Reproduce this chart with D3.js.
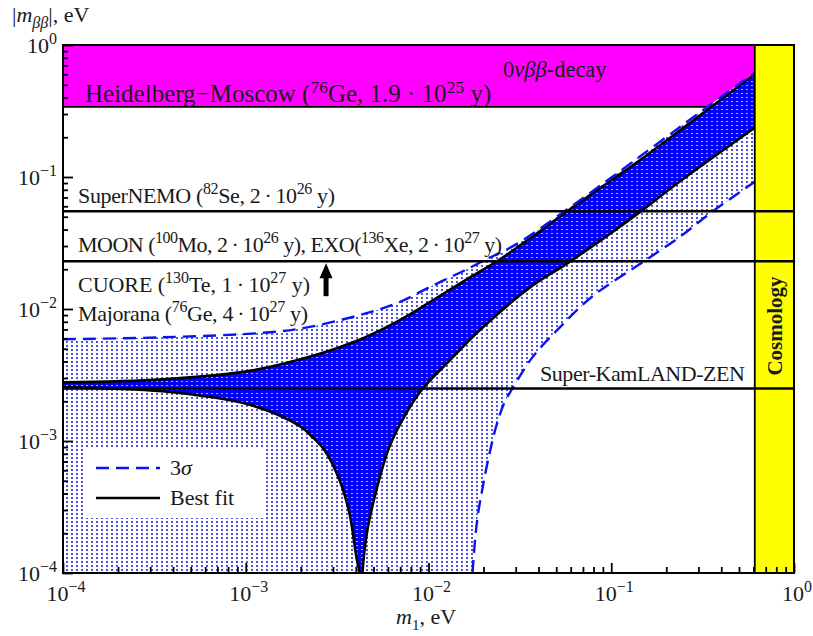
<!DOCTYPE html>
<html><head><meta charset="utf-8">
<script src="https://cdn.jsdelivr.net/npm/d3@7"></script>
<style>
html,body{margin:0;padding:0;background:#fff;}
text{font-family:"Liberation Serif","Times New Roman",serif;fill:#1a1a1a;}
</style></head>
<body><svg id="c" width="813" height="636"></svg>
<script>
// ---------- data ----------
const m1Decades = [1e-4, 1e-3, 1e-2, 1e-1, 1];
const mbbDecades = [1e-4, 1e-3, 1e-2, 1e-1, 1];
const decadeExponents = ["−4", "−3", "−2", "−1", "0"];

// best fit: upper edge and the two lower branches [m1, |mbb|]
const bestFitUpper = [[1e-4,2.78e-3],[3.5e-4,2.93e-3],[1.05e-3,3.4e-3],[2.44e-3,4.5e-3],[4e-3,5.7e-3],[5.9e-3,7.3e-3],[8e-3,9.2e-3],[1.05e-2,1.16e-2],[1.61e-2,1.67e-2],[2.45e-2,2.37e-2],[3.7e-2,3.53e-2],[5.7e-2,5.46e-2],[0.101,0.0953],[0.155,0.145],[0.33,0.318],[0.61,0.60]];
const bestFitLowerLeft = [[1e-4,2.55e-3],[3.5e-4,2.38e-3],[1.05e-3,1.88e-3],[1.97e-3,1.3e-3],[2.32e-3,1.07e-3],[2.7e-3,8.5e-4],[3.27e-3,5.0e-4],[3.7e-3,2.8e-4],[4.04e-3,1.3e-4],[4.2e-3,1.0e-4],[4.25e-3,5e-5]];
const bestFitLowerRight = [[4.3e-3,5e-5],[4.35e-3,1e-4],[4.64e-3,2.15e-4],[5.2e-3,4.3e-4],[6.1e-3,9.0e-4],[7.6e-3,1.65e-3],[9.2e-3,2.45e-3],[1.30e-2,4.05e-3],[1.97e-2,7.2e-3],[3.7e-2,1.5e-2],[5.7e-2,2.2e-2],[9.4e-2,3.55e-2],[0.142,5.37e-2],[0.236,9.2e-2],[0.61,0.236]];
// 3 sigma edges
const sigmaUpper = [[1e-4,5.9e-3],[3.5e-4,6.1e-3],[1.24e-3,6.6e-3],[2.1e-3,7.2e-3],[4.58e-3,9.3e-3],[6.95e-3,1.13e-2],[1.05e-2,1.5e-2],[1.61e-2,1.99e-2],[1.97e-2,2.3e-2],[3.03e-2,3.1e-2],[5.7e-2,5.65e-2],[0.101,0.100],[0.33,0.334],[0.61,0.614]];
const sigmaLower = [[1.70e-2,5e-5],[1.74e-2,1e-4],[1.85e-2,2.56e-4],[1.97e-2,4.3e-4],[2.15e-2,7.9e-4],[2.35e-2,1.3e-3],[2.6e-2,1.95e-3],[2.88e-2,2.5e-3],[3.7e-2,4.3e-3],[5.2e-2,7.2e-3],[7.9e-2,1.25e-2],[0.142,2.17e-2],[0.236,3.5e-2],[0.357,5.46e-2],[0.61,9.2e-2]];

// experiments
const hmBand = [0.34, 1];           // Heidelberg-Moscow excluded |mbb|
const cosmologyM1 = 0.61;           // cosmology bound on m1
const sensitivityLevels = [0.055, 0.023, 0.0025]; // SuperNEMO, MOON/EXO/CUORE, KamLAND-Zen
const arrowM1 = 2.75e-3, arrowFrom = 0.0125, arrowTo = 0.0222;

// ---------- drawing ----------
const svg = d3.select("#c");
const L = 63, R = 794, T = 45, B = 573;
const x = d3.scaleLog().domain([1e-4, 1]).range([L, R]);
const y = d3.scaleLog().domain([1e-4, 1]).range([B, T]);

const defs = svg.append("defs");
defs.append("clipPath").attr("id", "clip").append("rect")
  .attr("x", L).attr("y", T).attr("width", R - L).attr("height", B - T);
const pl = defs.append("pattern").attr("id", "light").attr("patternUnits", "userSpaceOnUse")
  .attr("width", 5).attr("height", 4);
pl.append("rect").attr("width", 5).attr("height", 4).attr("fill", "#fff");
pl.append("rect").attr("x", 1).attr("y", 1).attr("width", 2).attr("height", 2).attr("fill", "#5252e2");
const pd = defs.append("pattern").attr("id", "dark").attr("patternUnits", "userSpaceOnUse")
  .attr("width", 5).attr("height", 4);
pd.append("rect").attr("width", 5).attr("height", 4).attr("fill", "#0000f5");
pd.append("rect").attr("x", 1).attr("y", 1).attr("width", 2).attr("height", 1).attr("fill", "#a8a8ff");

const g = svg.append("g").attr("clip-path", "url(#clip)");
const line = d3.line().x(d => x(d[0])).y(d => y(d[1])).curve(d3.curveCatmullRom.alpha(0.5));
const join = (...segs) => segs.map((s, i) => i ? line(s).replace(/^M/, "L") : line(s)).join("") + "Z";

// Heidelberg-Moscow band
g.append("rect").attr("x", L).attr("y", y(hmBand[1])).attr("width", x(cosmologyM1) - L)
  .attr("height", y(hmBand[0]) - y(hmBand[1])).attr("fill", "#ff00ff");
g.append("line").attr("x1", L).attr("x2", x(cosmologyM1)).attr("y1", y(hmBand[0])).attr("y2", y(hmBand[0]))
  .attr("stroke", "#000").attr("stroke-width", 1.6);

// 3 sigma region
g.append("path").attr("d", join(sigmaUpper, sigmaLower.slice().reverse(), [[5e-5, 5e-5], [5e-5, 5.9e-3]]))
  .attr("fill", "url(#light)");
// best fit region
g.append("path").attr("d", join(bestFitUpper, bestFitLowerRight.slice().reverse(), bestFitLowerLeft.slice().reverse()))
  .attr("fill", "url(#dark)");

// curves
[bestFitUpper, bestFitLowerLeft, bestFitLowerRight].forEach(c =>
  g.append("path").attr("d", line(c)).attr("fill", "none").attr("stroke", "#000").attr("stroke-width", 2.6));
[sigmaUpper, sigmaLower].forEach(c =>
  g.append("path").attr("d", line(c)).attr("fill", "none").attr("stroke", "#0a14f0")
    .attr("stroke-width", 2.4).attr("stroke-dasharray", "13,7"));

// cosmology band
g.append("rect").attr("x", x(cosmologyM1)).attr("y", T).attr("width", R - x(cosmologyM1)).attr("height", B - T)
  .attr("fill", "#ffff00").attr("stroke", "#000").attr("stroke-width", 1.8);

// sensitivity lines
sensitivityLevels.forEach(v =>
  g.append("line").attr("x1", L).attr("x2", R).attr("y1", y(v)).attr("y2", y(v))
    .attr("stroke", "#000").attr("stroke-width", 2.6));

// arrow
const ax = x(arrowM1), ay0 = y(arrowFrom), ay1 = y(arrowTo);
svg.append("rect").attr("x", ax - 2.5).attr("y", ay1 + 12).attr("width", 5).attr("height", ay0 - ay1 - 12).attr("fill", "#000");
svg.append("path").attr("d", `M${ax - 6.5},${ay1 + 15}L${ax + 6.5},${ay1 + 15}L${ax},${ay1}Z`).attr("fill", "#000");

// rich text helper
function rich(sel, parts, supFs) {
  let off = 0;
  parts.forEach(p => {
    if (typeof p === "string") p = { t: p };
    const target = p.sup ? -9 : p.sub ? 6 : 0;
    const ts = sel.append("tspan").text(p.t);
    if (target !== off) { ts.attr("dy", target - off); off = target; }
    if (p.sup || p.sub) ts.attr("font-size", p.fs || supFs || 16);
    if (p.it) ts.attr("font-style", "italic");
  });
  return sel;
}
function label(px, py, parts, opts = {}) {
  const t = svg.append("text").attr("x", px).attr("y", py).attr("font-size", opts.fs || 22);
  if (opts.anchor) t.attr("text-anchor", opts.anchor);
  if (opts.weight) t.attr("font-weight", opts.weight);
  if (opts.transform) t.attr("transform", opts.transform);
  if (opts.len) t.attr("textLength", opts.len).attr("lengthAdjust", "spacing");
  return rich(t, parts, opts.supFs);
}

label(503, 77, ["0", { t: "νββ", it: true }, "-decay"], { fs: 22.5 });
label(85, 102, ["Heidelberg−Moscow (", { t: "76", sup: true }, "Ge, 1.9 · 10", { t: "25", sup: true }, " y)"], { fs: 25, supFs: 17.5 });
label(78, 203, ["SuperNEMO (", { t: "82", sup: true }, "Se, 2\u2009·\u200910", { t: "26", sup: true }, " y)"], { len: 257 });
label(78, 252, ["MOON (", { t: "100", sup: true }, "Mo, 2\u2009·\u200910", { t: "26", sup: true }, " y), EXO(", { t: "136", sup: true }, "Xe, 2\u2009·\u200910", { t: "27", sup: true }, " y)"], { len: 424 });
label(78, 292, ["CUORE (", { t: "130", sup: true }, "Te, 1\u2009·\u200910", { t: "27", sup: true }, " y)"], { len: 232 });
label(78, 321, ["Majorana (", { t: "76", sup: true }, "Ge, 4\u2009·\u200910", { t: "27", sup: true }, " y)"], { len: 230 });
label(540, 381, ["Super-KamLAND-ZEN"], { len: 205 });
label(0, 0, ["Cosmology"], { fs: 21, weight: "bold", anchor: "middle", transform: `translate(782,326) rotate(-90)` });

// legend
svg.append("rect").attr("x", 85).attr("y", 447).attr("width", 180).attr("height", 71).attr("fill", "#fff");
svg.append("line").attr("x1", 96).attr("x2", 160).attr("y1", 468).attr("y2", 468)
  .attr("stroke", "#0a14f0").attr("stroke-width", 2.4).attr("stroke-dasharray", "13,7");
svg.append("line").attr("x1", 96).attr("x2", 160).attr("y1", 498).attr("y2", 498)
  .attr("stroke", "#000").attr("stroke-width", 2.6);
label(170, 475, ["3", { t: "σ", it: true }]);
label(170, 505, ["Best fit"]);

// axes
const minor = ds => ds.slice(0, -1).flatMap(d => d3.range(2, 10).map(k => d * k));
svg.append("g").attr("transform", `translate(0,${B})`)
  .call(d3.axisBottom(x).tickValues(m1Decades).tickSizeInner(-10).tickSizeOuter(0).tickFormat(""));
svg.append("g").attr("transform", `translate(0,${B})`)
  .call(d3.axisBottom(x).tickValues(minor(m1Decades)).tickSizeInner(-6).tickSizeOuter(0).tickFormat(""));
svg.append("g").attr("transform", `translate(${L},0)`)
  .call(d3.axisLeft(y).tickValues(mbbDecades).tickSizeInner(-10).tickSizeOuter(0).tickFormat(""));
svg.append("g").attr("transform", `translate(${L},0)`)
  .call(d3.axisLeft(y).tickValues(minor(mbbDecades)).tickSizeInner(-5).tickSizeOuter(0).tickFormat(""));
svg.selectAll(".domain").remove();
svg.selectAll(".tick line").attr("stroke", "#000").attr("stroke-width", 1.8);

m1Decades.forEach((d, i) => label(x(d) + 3, 601, ["10", { t: decadeExponents[i], sup: true }], { anchor: "middle" }));
mbbDecades.forEach((d, i) => label(57, y(d) + 8, ["10", { t: decadeExponents[i], sup: true }], { anchor: "end" }));

// frame
svg.append("rect").attr("x", L).attr("y", T).attr("width", R - L).attr("height", B - T)
  .attr("fill", "none").attr("stroke", "#000").attr("stroke-width", 2);

// axis titles
label(12, 22, ["|", { t: "m", it: true }, { t: "ββ", it: true, sub: true }, "|, eV"]);
label(396, 624, [{ t: "m", it: true }, { t: "1", sub: true, fs: 15 }, ", eV"]);
</script></body></html>
